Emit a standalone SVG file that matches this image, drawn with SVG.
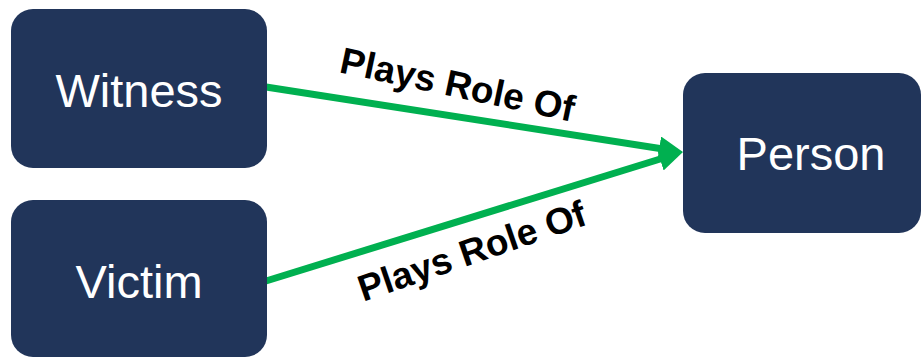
<svg xmlns="http://www.w3.org/2000/svg" width="923" height="358" viewBox="0 0 923 358">
<style>
.box{fill:#21355A;}
.lbl{font-family:"Liberation Sans",Arial,sans-serif;font-size:47px;fill:#FFFFFF;text-anchor:middle;}
.edge{stroke:#00B050;stroke-width:7;fill:none;}
.elbl{font-family:"Liberation Sans",Arial,sans-serif;font-size:37px;font-weight:bold;fill:#000000;text-anchor:middle;}
</style>
<defs>
<marker id="ah" markerUnits="userSpaceOnUse" markerWidth="24" markerHeight="24" viewBox="0 0 24 24" refX="12" refY="12" orient="auto">
<path d="M0,0 L24,12 L0,24 z" fill="#00B050"/>
</marker>
</defs>
<g id="connectors">
<line class="edge" x1="266" y1="87" x2="671.1" y2="150.2" marker-end="url(#ah)"/>
<line class="edge" x1="266" y1="281" x2="671.5" y2="155.5" marker-end="url(#ah)"/>
<text class="elbl" transform="translate(455,97) rotate(12)">Plays Role Of</text>
<text class="elbl" transform="translate(476,263) rotate(-19)">Plays Role Of</text>
</g>
<g id="witness">
<rect class="box" x="11" y="9" width="256" height="159" rx="22"/>
<text class="lbl" x="139" y="107">Witness</text>
</g>
<g id="victim">
<rect class="box" x="11" y="200" width="256" height="157" rx="22"/>
<text class="lbl" x="139" y="298">Victim</text>
</g>
<g id="person">
<rect class="box" x="683" y="73" width="238" height="160" rx="22"/>
<text class="lbl" x="811" y="170">Person</text>
</g>
</svg>
